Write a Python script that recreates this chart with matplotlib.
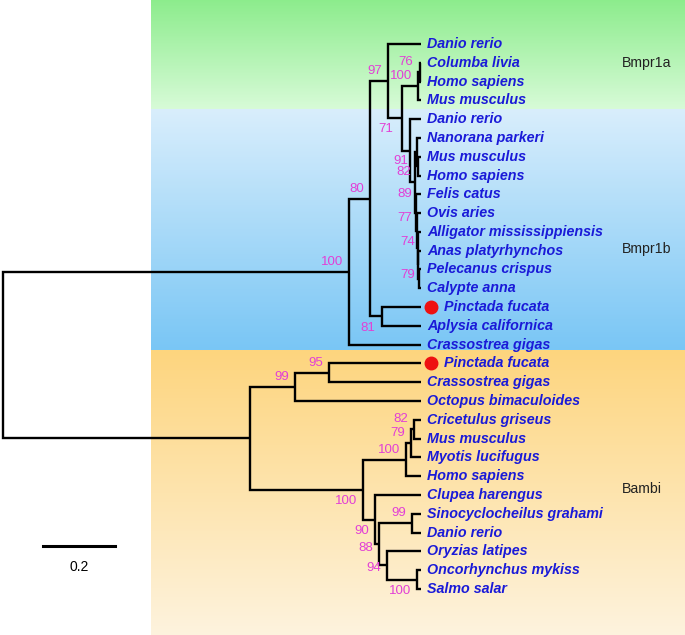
import matplotlib
matplotlib.use("Agg")
import matplotlib.pyplot as plt
import matplotlib.transforms as mtransforms
from matplotlib.colors import LinearSegmentedColormap
import numpy as np

# ---------------- data ----------------
# Tree: (node_id, depth (substitutions/site from root), bootstrap, children); leaves are strings
TIP_DEPTH = 1.161
tree = ("root", 0.0, None, [
    ("bmpr", 0.961, 100, [
        ("n80", 1.019, 80, [
            ("n97", 1.069, 97, [
                "Danio rerio",
                ("n71", 1.108, 71, [
                    ("n100a", 1.153, 100, [
                        ("n76", 1.157, 76, ["Columba livia", "Homo sapiens"]),
                        "Mus musculus"]),
                    ("nb", 1.131, None, [
                        "Danio rerio",
                        ("nA", 1.144, None, [
                            ("n91", 1.149, 91, [
                                "Nanorana parkeri",
                                ("n82", 1.153, 82, ["Mus musculus", "Homo sapiens"])]),
                            ("nU", 1.147, 89, [
                                "Felis catus",
                                ("nT", 1.150, 77, [
                                    "Ovis aries",
                                    ("nS", 1.152, 74, [
                                        "Alligator mississippiensis",
                                        ("nQ", 1.153, None, [
                                            "Anas platyrhynchos",
                                            ("nP", 1.155, 79, ["Pelecanus crispus", "Calypte anna"])])])])])])])])]),
            ("n81", 1.053, 81, ["Pinctada fucata", "Aplysia californica"])]),
        "Crassostrea gigas"]),
    ("bambi", 0.686, None, [
        ("n99", 0.811, 99, [
            ("n95", 0.906, 95, ["Pinctada fucata", "Crassostrea gigas"]),
            "Octopus bimaculoides"]),
        ("nV", 1.000, 100, [
            ("n100m", 1.119, 100, [
                ("n79m", 1.133, 79, [
                    ("n82m", 1.142, 82, ["Cricetulus griseus", "Mus musculus"]),
                    "Myotis lucifugus"]),
                "Homo sapiens"]),
            ("nF", 1.033, 90, [
                "Clupea harengus",
                ("nF2", 1.044, 88, [
                    ("n99s", 1.136, 99, ["Sinocyclocheilus grahami", "Danio rerio"]),
                    ("n94", 1.067, 94, [
                        "Oryzias latipes",
                        ("n100s", 1.150, 100, ["Oncorhynchus mykiss", "Salmo salar"])])])])])])])

marked_taxa = ["Pinctada fucata"]
group_names = ["Bmpr1a", "Bmpr1b", "Bambi"]
group_bounds = [(-2.4, 3.5), (3.5, 16.3), (16.3, 31.5)]   # in leaf-row units
group_label_rows = [1.0, 10.9, 23.7]
group_colors = [("#8cec8c", "#d8fbd8"), ("#d9eefc", "#79c6f5"), ("#fdd57e", "#fef3de")]
scale_length = 0.2
scale_label = "0.2"

# label nudges (pixels): vertical offset of bootstrap value from node
boot_dy = {"n81": 11.5, "n71": 11, "nV": 11, "nF": 11, "n100s": 11.5,
           "nF2": 4, "n94": 3, "n91": 9, "n82": 6, "nU": -19, "nT": -13,
           "nS": -6, "nP": -3.5}
boot_dx = {"n91": -8, "n82": -7, "nU": -4, "nT": -5, "nS": -3, "nP": -4,
           "n81": -7, "n71": -9}

# ---------------- layout ----------------
W, H = 685, 635
fig = plt.figure(figsize=(W / 100, H / 100), dpi=100)
ax = fig.add_axes([0, 0, 1, 1])
px_per_unit = 360.0
row_px = 18.79
ax.set_xlim(-3 / px_per_unit, (W - 3) / px_per_unit)
ax.set_ylim((H - 44) / row_px, -44 / row_px)
ax.axis("off")

# background gradient bands
band_x0 = 0.411
xmax = (W - 3) / px_per_unit
for (y0, y1), (c0, c1) in zip(group_bounds, group_colors):
    cmap = LinearSegmentedColormap.from_list("g", [c0, c1])
    grad = np.linspace(0, 1, 256).reshape(-1, 1)
    ax.imshow(grad, cmap=cmap, aspect="auto", extent=(band_x0, xmax, y1, y0),
              zorder=0, interpolation="bilinear")

# ---------------- tree layout ----------------
leaves = []
def collect(node):
    if isinstance(node, str):
        leaves.append(node)
    else:
        for c in node[3]:
            collect(c)
collect(tree)

counter = [0]
def layout(node):
    if isinstance(node, str):
        y = counter[0]
        counter[0] += 1
        return TIP_DEPTH, y
    nid, depth, boot, children = node
    pos = [layout(c) for c in children]
    ys = [p[1] for p in pos]
    y = sum(ys) / len(ys)
    (x1, y1), (x2, y2) = pos[0], pos[-1]
    ax.plot([x1, depth, depth, x2], [y1, y1, y2, y2], color="black", lw=1.7,
            solid_joinstyle="miter", solid_capstyle="butt", zorder=3)
    if boot is not None:
        dy = boot_dy.get(nid, -10)
        dx = boot_dx.get(nid, -6)
        ax.annotate(str(boot), (depth, y), xytext=(dx, -dy), textcoords="offset pixels",
                    ha="right", va="center", fontsize=9.5, color="#e23fd6",
                    family="Liberation Sans", zorder=5)
    return depth, y

rx, ry = layout(tree)

# leaf labels
for i, name in enumerate(leaves):
    if name in marked_taxa:
        tr = mtransforms.offset_copy(ax.transData, fig=fig, x=10, y=0, units="dots")
        ax.plot([TIP_DEPTH], [i], "o", color="#ee1111", ms=9, transform=tr, zorder=6)
        off = 23
    else:
        off = 6
    ax.annotate(name, (TIP_DEPTH, i), xytext=(off, 0), textcoords="offset pixels",
                ha="left", va="center", fontsize=10.3, fontweight="bold", fontstyle="italic",
                color="#1a1ad8", family="Liberation Sans", zorder=6)

# group labels
for name, row in zip(group_names, group_label_rows):
    ax.text((622 - 3) / px_per_unit, row, name, ha="left", va="center", fontsize=10.2,
            color="#222222", family="Liberation Sans", zorder=6)

# scale bar
sb_x0 = (43 - 3) / px_per_unit
sb_y = (546 - 44) / row_px
ax.plot([sb_x0, sb_x0 + scale_length], [sb_y, sb_y], color="black", lw=2.2, zorder=3)
ax.text(sb_x0 + scale_length / 2, (567 - 44) / row_px, scale_label, ha="center",
        va="center", fontsize=10, family="Liberation Sans", color="black")

fig.savefig("out.png", dpi=100)
